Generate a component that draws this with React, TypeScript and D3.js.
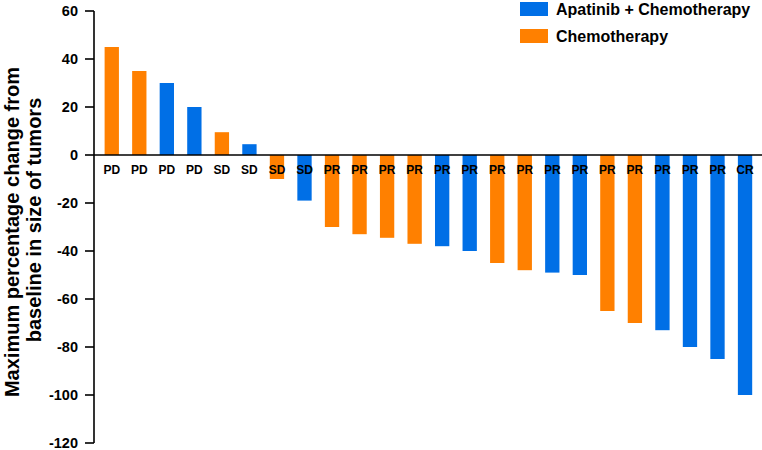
import React from 'react';
import * as d3 from 'd3';

// Per-patient best response, sorted as in the waterfall plot
const changes = [45, 35, 30, 20, 9.5, 4.5, -10, -19, -30, -33, -34.5, -37, -38, -40, -45, -48, -49, -50, -65, -70, -73, -80, -85, -100];
const arms = ['C', 'C', 'A', 'A', 'C', 'A', 'C', 'A', 'C', 'C', 'C', 'C', 'A', 'A', 'C', 'C', 'A', 'A', 'C', 'C', 'A', 'A', 'A', 'A'];
const responses = ['PD', 'PD', 'PD', 'PD', 'SD', 'SD', 'SD', 'SD', 'PR', 'PR', 'PR', 'PR', 'PR', 'PR', 'PR', 'PR', 'PR', 'PR', 'PR', 'PR', 'PR', 'PR', 'PR', 'CR'];
const yTicks = [60, 40, 20, 0, -20, -40, -60, -80, -100, -120];
const legendItems = [
  { key: 'A', label: 'Apatinib + Chemotherapy' },
  { key: 'C', label: 'Chemotherapy' },
];

const W = 762;
const H = 450;
const FONT = 'Arial, "Liberation Sans", Helvetica, sans-serif';
const colors: Record<string, string> = { A: '#006fe6', C: '#ff8000' };

export default function App() {
  const x = d3.scaleBand<number>()
    .domain(changes.map((_, i) => i))
    .range([98, 758.8])
    .paddingInner(0.48)
    .paddingOuter(0.24);

  const y = d3.scaleLinear().domain([-120, 60]).range([443, 11]);
  const axisX = 94;

  return (
    <svg width={W} height={H} style={{ position: 'absolute', left: 0, top: 0, background: '#fff' }} fontFamily={FONT}>
      {/* bars */}
      {changes.map((v, i) => (
        <rect
          key={i}
          x={x(i)}
          width={x.bandwidth()}
          y={Math.min(y(v), y(0))}
          height={Math.abs(y(v) - y(0))}
          fill={colors[arms[i]]}
        />
      ))}

      {/* zero line */}
      <line x1={axisX} x2={W} y1={y(0)} y2={y(0)} stroke="#000" strokeWidth={1.6} />

      {/* response labels */}
      {responses.map((r, i) => (
        <text
          key={i}
          x={(x(i) ?? 0) + x.bandwidth() / 2}
          y={y(0) + 18.5}
          textAnchor="middle"
          fontSize={12}
          fontWeight="bold"
          fill="#000"
        >
          {r}
        </text>
      ))}

      {/* y axis */}
      <line x1={axisX} x2={axisX} y1={y(60)} y2={y(-120)} stroke="#000" strokeWidth={1.6} />
      {yTicks.map(t => (
        <g key={t}>
          <line x1={axisX - 9} x2={axisX} y1={y(t)} y2={y(t)} stroke="#000" strokeWidth={1.6} />
          <text x={78} y={y(t) + 5} textAnchor="end" fontSize={14.5} fontWeight="bold" fill="#000">
            {t}
          </text>
        </g>
      ))}

      {/* y title */}
      <text transform="translate(18.5,232) rotate(-90)" textAnchor="middle" fontSize={20} fontWeight="bold" fill="#000">
        Maximum percentage change from
      </text>
      <text transform="translate(40.5,220) rotate(-90)" textAnchor="middle" fontSize={20} fontWeight="bold" fill="#000">
        baseline in size of tumors
      </text>

      {/* legend */}
      {legendItems.map((d, i) => (
        <g key={d.key} transform={`translate(520,${2 + i * 27})`}>
          <rect width={28} height={14} fill={colors[d.key]} />
          <text x={36} y={12.5} fontSize={16} fontWeight="bold" fill="#000">
            {d.label}
          </text>
        </g>
      ))}
    </svg>
  );
}
